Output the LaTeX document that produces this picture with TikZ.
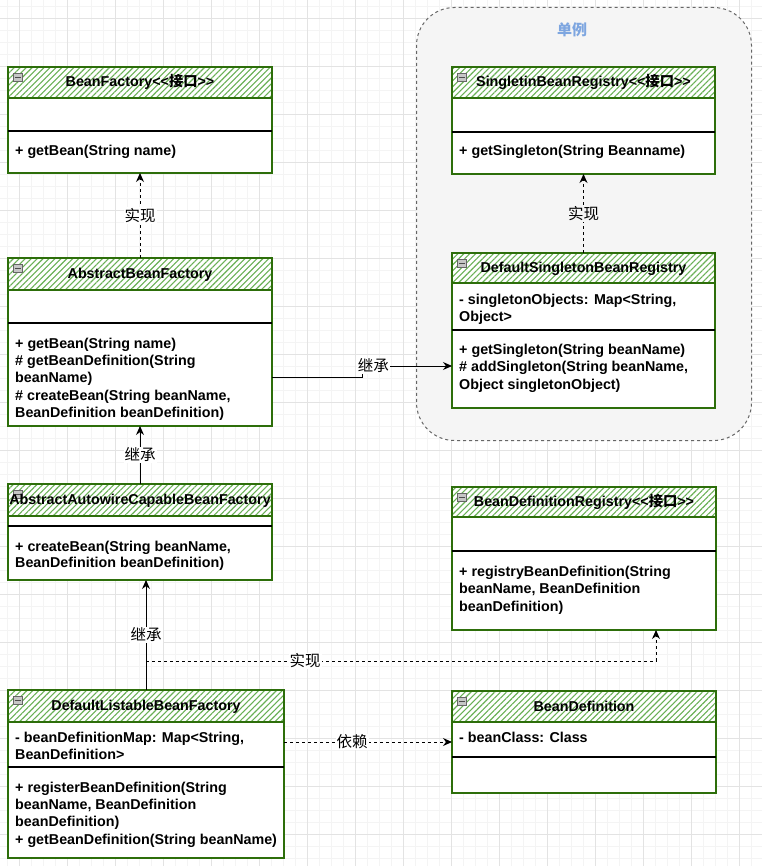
\documentclass[tikz,border=0pt]{standalone}
\usepackage{fontspec}
\setmainfont{Liberation Sans}
\newfontfamily\cjk{Noto Sans CJK SC}
\usetikzlibrary{calc,arrows.meta,patterns.meta}
\definecolor{gborder}{RGB}{45,110,10}
\definecolor{hatchgreen}{RGB}{105,176,85}
\definecolor{groupfill}{HTML}{F5F5F5}
\definecolor{groupline}{HTML}{666666}
\definecolor{grpblue}{HTML}{7EA6E0}
\definecolor{majgrid}{HTML}{E3E3E3}
\definecolor{mingrid}{HTML}{F4F4F4}
\tikzset{
  classbox/.style={draw=gborder,fill=white,line width=1.2pt,inner sep=0pt,outer sep=0pt,anchor=north west},
  gline/.style={draw=gborder,line width=1.2pt},
  hatch/.style={pattern={Lines[angle=45,distance=4.2pt,line width=1.1pt]},pattern color=hatchgreen},
  sepline/.style={draw=black,line width=1.2pt},
  iconbox/.style={draw=gray!80!black,fill=gray!45,line width=0.6pt},
  iconbar/.style={draw=black!70,line width=0.8pt},
  titletxt/.style={font=\bfseries\fontsize{14.3}{16}\selectfont,inner sep=0pt,text height=10pt,text depth=3pt},
  mtxt/.style={font=\bfseries\fontsize{14.3}{16}\selectfont,inner sep=0pt,anchor=west,text height=10pt,text depth=3pt},
  elabel/.style={font=\cjk\fontsize{15.5}{15.5}\selectfont,fill=white,inner sep=1pt},
  inh/.style={draw=black,line width=1pt,-{Stealth[length=9pt,width=8pt]}},
  real/.style={inh,dash pattern=on 3pt off 3pt},
  grp/.style={draw=groupline,fill=groupfill,dash pattern=on 3pt off 3pt,line width=1pt,rounded corners=38pt,inner sep=0pt,anchor=north west},
}
\newcommand\umlclass[7]{%
  \node[classbox,minimum width={(#4-#2)*1pt},minimum height={(#5-#3)*1pt}] (#1) at (#2,#3) {};
  \fill[hatch] (#2,#3) rectangle (#4,#6);
  \draw[gline] (#2,#6) -- (#4,#6);
  \draw[iconbox] (#2+5,#3+6) rectangle (#2+14.5,#3+14);
  \draw[iconbar] (#2+6.5,#3+10) -- (#2+13,#3+10);
  \node[titletxt] (#1-t) at ({(#2+#4)/2},{(#3+#6)/2+1}) {#7};
  \draw[gline] (#1.north west) rectangle (#1.south east);
}
\newcommand\mln[4]{\node[mtxt] (#1) at (#2,#3) {#4};}
\begin{document}
\begin{tikzpicture}[x=1pt,y=-1pt]
\useasboundingbox (0,0) rectangle (762,866);
\fill[white] (0,0) rectangle (762,866);
% grid
\foreach \i in {-1,...,63} {\draw[mingrid,line width=0.6pt] ({7.3+12*\i},0) -- ({7.3+12*\i},866);}
\foreach \i in {0,...,72} {\draw[mingrid,line width=0.6pt] (0,{6+12*\i}) -- (762,{6+12*\i});}
\foreach \i in {0,...,15} {\draw[majgrid,line width=0.8pt] ({19.3+48*\i},0) -- ({19.3+48*\i},866);}
\foreach \i in {0,...,17} {\draw[majgrid,line width=0.8pt] (0,{18+48*\i}) -- (762,{18+48*\i});}
% group
\node[grp,minimum width=335pt,minimum height=433pt] (group) at (416,7) {};
\node[font=\cjk\bfseries\fontsize{15}{15}\selectfont,text=grpblue,inner sep=0pt] (grouptitle) at (572,30) {单例};
% classes
\umlclass{bf}{8}{67}{272}{173}{98}{BeanFactory<{}<{\cjk 接口}>{}>}
\draw[sepline] (8,131) -- (272,131);
\mln{bf1}{15}{152.5}{+ getBean(String name)}

\umlclass{abf}{8}{258}{272}{426}{290}{AbstractBeanFactory}
\draw[sepline] (8,323) -- (272,323);
\mln{abf1}{15}{344.5}{+ getBean(String name)}
\mln{abf2}{15}{361.5}{\# getBeanDefinition(String}
\mln{abf3}{15}{379}{beanName)}
\mln{abf4}{15}{396.5}{\# createBean(String beanName,}
\mln{abf5}{15}{413.5}{BeanDefinition beanDefinition)}

\umlclass{aacbf}{8}{484}{272}{580}{516}{AbstractAutowireCapableBeanFactory}
\draw[sepline] (8,526) -- (272,526);
\mln{aacbf1}{15}{547.5}{+ createBean(String beanName,}
\mln{aacbf2}{15}{563.5}{BeanDefinition beanDefinition)}

\umlclass{dlbf}{8}{690}{284}{858}{722}{DefaultListableBeanFactory}
\draw[sepline] (8,767) -- (284,767);
\mln{dlbf1}{15}{738.5}{- beanDefinitionMap: Map<String,}
\mln{dlbf2}{15}{755.5}{BeanDefinition>}
\mln{dlbf3}{15}{788.5}{+ registerBeanDefinition(String}
\mln{dlbf4}{15}{805.5}{beanName, BeanDefinition}
\mln{dlbf5}{15}{822.5}{beanDefinition)}
\mln{dlbf6}{15}{840.5}{+ getBeanDefinition(String beanName)}

\umlclass{sbr}{452}{67}{715}{174}{98}{SingletinBeanRegistry<{}<{\cjk 接口}>{}>}
\draw[sepline] (452,132) -- (715,132);
\mln{sbr1}{459}{152.5}{+ getSingleton(String Beanname)}

\umlclass{dsbr}{452}{253}{715}{408}{283}{DefaultSingletonBeanRegistry}
\draw[sepline] (452,330) -- (715,330);
\mln{dsbr1}{459}{300.5}{- singletonObjects: Map<String,}
\mln{dsbr2}{459}{317.5}{Object>}
\mln{dsbr3}{459}{350.5}{+ getSingleton(String beanName)}
\mln{dsbr4}{459}{367.5}{\# addSingleton(String beanName,}
\mln{dsbr5}{459}{385.5}{Object singletonObject)}

\umlclass{bdr}{452}{487}{716}{630}{517}{BeanDefinitionRegistry<{}<{\cjk 接口}>{}>}
\draw[sepline] (452,551) -- (716,551);
\mln{bdr1}{459}{572.5}{+ registryBeanDefinition(String}
\mln{bdr2}{459}{589.5}{beanName, BeanDefinition}
\mln{bdr3}{459}{607.5}{beanDefinition)}

\umlclass{bd}{452}{691}{716}{793}{722}{BeanDefinition}
\draw[sepline] (452,757) -- (716,757);
\mln{bd1}{459}{738.5}{- beanClass: Class}

% connectors
\draw[real] (abf.north) -- (bf.south) node[elabel,pos=0.5] (l1) {实现};
\draw[real] (dsbr.north) -- (sbr.south) node[elabel,fill=groupfill,pos=0.5] (l2) {实现};
\draw[inh] (aacbf.north) -- (abf.south) node[elabel,pos=0.5] (l3) {继承};
\draw[inh] (dlbf.north) -- (dlbf.north |- aacbf.south) node[elabel,pos=0.5] (l4) {继承};
\coordinate (s5) at ($(dlbf.north)+(0,-29)$);
\coordinate (e5) at ($(bdr.south east)+(-60,0)$);
\draw[real] (s5) -- (s5 -| e5) node[elabel,pos=0.312] (l5) {实现} -- (e5);
\coordinate (s6) at ($(dlbf.north east)+(0,52)$);
\draw[real] (s6) -- (s6 -| bd.west) node[elabel,pos=0.405] (l6) {依赖};
\coordinate (s7) at ($(abf.south east)+(0,-49)$);
\coordinate (e7) at ($(dsbr.north west)+(0,113)$);
\coordinate (j7) at ($(s7)+(90,0)$);
\draw[inh] (s7) -- (j7) -- (j7 |- e7) -- (e7) node[elabel,pos=0.125] (l7) {继承};
\end{tikzpicture}
\end{document}
